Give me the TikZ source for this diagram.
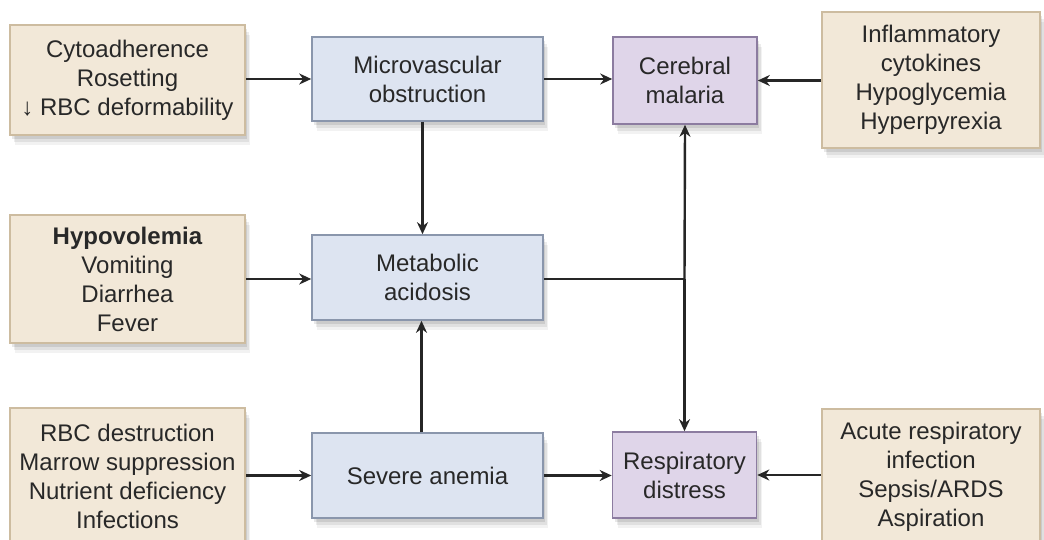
\documentclass[tikz,border=0pt]{standalone}
\usepackage{fontspec}
\setmainfont{Liberation Sans}
\usetikzlibrary{arrows.meta,shadows}
\definecolor{tanfill}{RGB}{242,232,216}
\definecolor{tanline}{RGB}{205,188,160}
\definecolor{bluefill}{RGB}{221,228,241}
\definecolor{blueline}{RGB}{138,150,172}
\definecolor{purpfill}{RGB}{223,213,233}
\definecolor{purpline}{RGB}{140,124,160}
\definecolor{txt}{RGB}{40,40,40}
\tikzset{
  soft/.style={
    drop shadow={shadow xshift=5pt,shadow yshift=-10pt,opacity=.05,fill=black},
    drop shadow={shadow xshift=4pt,shadow yshift=-7pt,opacity=.07,fill=black},
    drop shadow={shadow xshift=2pt,shadow yshift=-4pt,opacity=.09,fill=black}},
  boxbase/.style={rectangle, soft, line width=1.6pt, align=center, text=txt,
    font=\fontsize{24}{29}\selectfont, inner sep=0pt},
  cause/.style={boxbase, fill=tanfill, draw=tanline, minimum width=235pt},
  mid/.style={boxbase, fill=bluefill, draw=blueline, minimum width=231pt},
  outc/.style={boxbase, fill=purpfill, draw=purpline, minimum width=144pt},
  conn/.style={line width=2.4pt, draw=black!85, -{Stealth[length=12pt,width=11pt]}},
  plain/.style={line width=2.4pt, draw=black!85}
}
\begin{document}
\begin{tikzpicture}[x=1pt,y=-1pt]
\useasboundingbox[fill=white] (0,0) rectangle (1044,540);
\node[cause, minimum height=110pt] (c1) at (127.5,80) {Cytoadherence\\Rosetting\\↓ RBC deformability};
\node[cause, minimum height=128pt] (c2) at (127.5,279) {\textbf{Hypovolemia}\\Vomiting\\Diarrhea\\Fever};
\node[cause, minimum height=136pt] (c3) at (127.5,476) {RBC destruction\\Marrow suppression\\Nutrient deficiency\\Infections};
\node[cause, minimum width=218pt, minimum height=136pt] (r1) at (931,80) {Inflammatory\\cytokines\\Hypoglycemia\\Hyperpyrexia};
\node[cause, minimum width=218pt, minimum height=136pt] (r2) at (931,477) {Acute respiratory\\infection\\Sepsis/ARDS\\Aspiration};
\node[mid, minimum height=84pt] (micro) at (427.5,79) {Microvascular\\obstruction};
\node[mid, minimum height=85pt] (meta) at (427.5,277.5) {Metabolic\\acidosis};
\node[mid, minimum height=85pt] (anem) at (427.5,475.5) {Severe anemia};
\node[outc, minimum height=87pt] (cereb) at (685,80.5) {Cerebral\\malaria};
\node[outc, minimum height=86pt] (resp) at (684.5,475) {Respiratory\\distress};
\coordinate (j) at (684.5,279);
\draw[conn] (c1.east |- micro.west) -- (micro.west);
\draw[conn] (micro.east) -- (micro.east -| cereb.west);
\draw[conn] (r1.west |- cereb.east) -- (cereb.east);
\draw[conn] (c2.east |- j) -- (c2.east -| meta.west);
\draw[conn] (c3.east |- anem.west) -- (anem.west);
\draw[conn] (anem.east) -- (anem.east -| resp.west);
\draw[conn] (r2.west |- resp.east) -- (resp.east);
\draw[conn] ([xshift=-5pt]micro.south) -- ([xshift=-5pt]meta.north);
\draw[conn] ([xshift=-6pt]anem.north) -- ([xshift=-6pt]meta.south);
\draw[plain] (meta.east |- j) -- (j);
\draw[conn] (j) -- (cereb.south);
\draw[conn] (j) -- (resp.north);
\end{tikzpicture}
\end{document}
